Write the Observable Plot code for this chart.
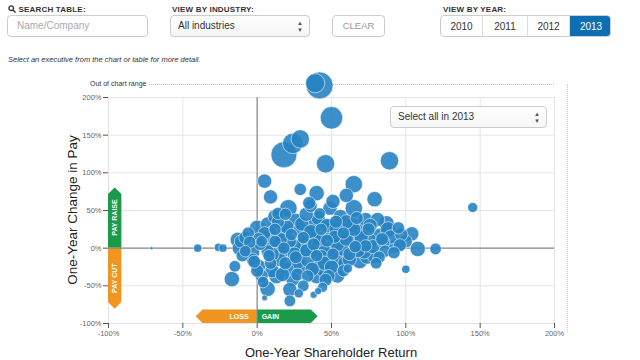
<!DOCTYPE html>
<html>
<head>
<meta charset="utf-8">
<script src="https://cdn.jsdelivr.net/npm/d3@7"></script>
<script src="https://cdn.jsdelivr.net/npm/@observablehq/plot@0.6"></script>
<style>
  body { margin:0; width:640px; height:360px; overflow:hidden; background:#fff; font-family:"Liberation Sans", Arial, sans-serif; position:relative; }
  .lbl { position:absolute; font-size:8px; font-weight:bold; color:#333; letter-spacing:0.2px; }
  .box { position:absolute; border:1px solid #ccc; border-radius:4px; box-sizing:border-box; background:#fff; font-size:10px; }
  .yr { position:absolute; top:0; height:100%; display:flex; align-items:center; justify-content:center; font-size:10px; color:#333; border-right:1px solid #ddd; box-sizing:border-box; }
  #chart { position:absolute; left:0; top:72px; }
</style>
</head>
<body>
<div class="lbl" style="left:8px;top:5px;"><svg width="8" height="8" style="vertical-align:-1px"><circle cx="3.2" cy="3.2" r="2.3" fill="none" stroke="#333" stroke-width="1.3"/><line x1="5" y1="5" x2="7.5" y2="7.5" stroke="#333" stroke-width="1.5"/></svg> SEARCH TABLE:</div>
<div class="box" style="left:7px;top:15px;width:141px;height:22px;line-height:20px;padding-left:9px;color:#aaa;">Name/Company</div>
<div class="lbl" style="left:172px;top:5px;">VIEW BY INDUSTRY:</div>
<div class="box" style="left:170px;top:15px;width:140px;height:22px;line-height:20px;padding-left:7px;color:#333;background:linear-gradient(#fff,#f4f4f4);">All industries<span style="position:absolute;right:6px;top:0;font-size:6px;line-height:7px;padding-top:4px;color:#555;">▲<br>▼</span></div>
<div class="box" style="left:332px;top:15px;width:53px;height:22px;line-height:20px;text-align:center;color:#999;font-size:9.5px;">CLEAR</div>
<div class="lbl" style="left:443px;top:5px;">VIEW BY YEAR:</div>
<div class="box" style="left:440px;top:15px;width:171px;height:22px;overflow:hidden;">
  <div class="yr" style="left:0;width:42px;">2010</div>
  <div class="yr" style="left:42px;width:45px;">2011</div>
  <div class="yr" style="left:87px;width:42px;">2012</div>
  <div class="yr" style="left:129px;width:42px;background:#0d6fb2;color:#fff;border:none;">2013</div>
</div>
<div style="position:absolute;left:8px;top:55px;font-size:7.5px;font-style:italic;color:#333;">Select an executive from the chart or table for more detail.</div>

<div style="position:absolute;left:90px;top:80px;font-size:7px;color:#333;">Out of chart range</div>
<div style="position:absolute;left:149px;top:84px;width:405px;border-top:1px dotted #bbb;"></div>
<div style="position:absolute;left:567px;top:84px;height:248px;border-left:1px dotted #ccc;"></div>

<div id="chart"></div>

<div class="box" style="left:390px;top:106px;width:157px;height:22px;line-height:20px;padding-left:7px;color:#333;background:linear-gradient(#fff,#f6f6f6);">Select all in 2013<span style="position:absolute;right:6px;top:0;font-size:6px;line-height:7px;padding-top:4px;color:#555;">▲<br>▼</span></div>

<div style="position:absolute;left:72px;top:210px;transform:translate(-50%,-50%) rotate(-90deg);font-size:13.5px;color:#222;white-space:nowrap;">One-Year Change in Pay</div>
<div style="position:absolute;left:331px;top:345px;transform:translateX(-50%);font-size:13px;color:#222;white-space:nowrap;">One-Year Shareholder Return</div>

<script>
// One-year shareholder return (%)
const shareholderReturn = [
  42, 39, 50, 29, 24, 18, 46, 89, 5, 145, 120, 100, -71, -40, -26, -23, -15, -17, -13, 0,
  9, 14, 21, 29, 40, 49, 60, 65, 79, 65, 36, 56, 42, 26, 73, 87, 95, 104, 108, 100,
  93, 83, 76, 69, 59, 49, 39, 29, 19, 9, -6, -11, -8, -3, 3, 7, 12, 17, 22, 28,
  32, 37, 42, 48, 52, 57, 63, 68, 73, 79, 86, 69, 59, 49, 39, 29, 19, 9, 1, 3,
  13, 24, 34, 44, 54, 61, 7, 5, 22, 28, 38, 41, 81, 74, 40, 48,
  2, 5, 8, 10, 12, 15, 16, 18, 20, 23, 25, 26, 30, 31, 33, 34, 36, 38, 40, 41,
  43, 44, 45, 47, 50, 51, 53, 54, 55, 58, 60, 62, 64, 66, 70, 72, 75, 78, 82, 85,
  90, 92, 97, -5, -3, -8, -10, 0, 4, 10, 14, 19, 27, 31, 35, 46, 58, 67, 80, 88,
  -12, 7, 22, 51,
  15, 25, 35, 45, 55, 65, 20, 30, 40, 50, 60, 70, 10, 33, 57, 47, 27, 37, 62, 5,
  17, 43, 53, 76, 84, 96, -2, 1, 12, 39
];
// One-year change in pay (%)
const payChange = [
  216, 219, 173, 145, 139, 124, 112, 116, 89, 54, -1, -28, 0, 0, 1, 0, -24, -41, 11, 27,
  68, 46, 53, 78, 73, 53, 70, 85, 65, 53, 56, 42, 46, 36, 38, 33, 27, 19, -1, 9,
  3, 16, 9, 23, 29, 29, 32, 25, 23, 20, 20, 9, -4, -15, 9, -4, 9, -4, 9, -7,
  9, -4, 12, -1, 15, -1, 9, -4, 3, -11, -4, -17, -20, -20, -24, -24, -20, -20, -24, -37,
  -37, -41, -37, -52, -37, -27, -54, -66, -70, -60, -62, -57, 38, -11, -37, -37,
  5, 15, -10, 2, 25, -15, 12, 0, -28, 18, 3, -12, 32, 14, -3, -16, 22, 5, -10, 40,
  25, 0, -30, 10, 18, -8, 35, 5, -15, 20, 12, -8, 30, 2, 15, -5, 25, 2, -12, 8,
  15, -6, 18, 8, -5, 14, -10, -30, -45, -30, 35, 45, -35, -50, 60, -42, -30, 40, -20, 25,
  0, 32, -55, 62,
  5, -8, 18, -20, 8, 25, 28, -5, 2, -25, 35, 0, -8, 45, 15, 30, -18, -28, -15, 20,
  -35, -12, 26, 30, 12, 4, -18, 12, 42, 12
];
// Total pay ($ millions) — bubble size
const totalPay = [
  43, 22, 30, 20, 25, 40, 20, 20, 12, 6, 8, 4, 0.6, 4, 4, 4, 8, 14, 14, 14,
  12, 9, 18, 9, 14, 12, 12, 18, 14, 18, 10, 12, 8, 14, 12, 14, 9, 12, 14, 10,
  12, 16, 14, 18, 16, 14, 16, 12, 14, 10, 9, 10, 8, 10, 8, 10, 9, 12, 10, 14,
  12, 10, 12, 14, 10, 12, 14, 10, 9, 12, 9, 14, 12, 16, 12, 14, 10, 9, 12, 10,
  14, 12, 9, 6, 12, 5, 14, 2, 8, 5, 3, 3, 12, 14, 14, 10,
  9, 10, 9, 14, 9, 12, 10, 9, 12, 9, 12, 10, 12, 9, 10, 12, 12, 10, 9, 12,
  9, 14, 12, 10, 12, 9, 10, 12, 14, 9, 12, 10, 12, 9, 12, 12, 10, 12, 9, 10,
  12, 9, 10, 9, 12, 10, 9, 10, 8, 12, 10, 9, 10, 8, 10, 10, 9, 10, 8, 14,
  12, 12, 12, 12,
  14, 12, 16, 12, 14, 12, 12, 14, 16, 12, 12, 14, 12, 12, 14, 12, 14, 12, 12, 10,
  12, 14, 12, 12, 10, 10, 10, 10, 12, 14
];
const tickValues = [-100, -50, 0, 50, 100, 150, 200];

const execs = shareholderReturn.map((x, i) => ({ret: x, pay: payChange[i], total: totalPay[i]}))
  .sort((a, b) => b.total - a.total);

// Annotation arrows (data units)
const arrows = [
  {label: "PAY RAISE", x0: -100, x1: -91, y0: 0, y1: 80, dir: "up", color: "#1a9a4a"},
  {label: "PAY CUT", x0: -100, x1: -91, y0: 0, y1: -81, dir: "down", color: "#f0951f"},
  {label: "LOSS", x0: 0, x1: -41, y0: -100, y1: -82, dir: "left", color: "#f0951f"},
  {label: "GAIN", x0: 0, x1: 41, y0: -100, y1: -82, dir: "right", color: "#1a9a4a"}
];

const chart = Plot.plot({
  width: 640,
  height: 288,
  marginTop: 25,
  marginBottom: 37,
  marginLeft: 108,
  marginRight: 86,
  style: {fontFamily: "Liberation Sans, Arial, sans-serif", fontSize: "7.5px", color: "#555", background: "transparent"},
  x: {domain: [-100, 200]},
  y: {domain: [-100, 200]},
  r: {type: "sqrt", domain: [0, 50], range: [0, 14.5]},
  marks: [
    Plot.gridX(tickValues, {stroke: "#e4e4e4", strokeOpacity: 1}),
    Plot.gridY(tickValues, {stroke: "#e4e4e4", strokeOpacity: 1}),
    Plot.axisX(tickValues, {tickFormat: d => d + "%", tickSize: 5, tickPadding: 2, label: null, stroke: "#555", fill: "#666"}),
    Plot.axisY(tickValues, {tickFormat: d => d + "%", tickSize: 5, tickPadding: 2, label: null, stroke: "#555", fill: "#666"}),
    Plot.ruleX([0], {stroke: "#8a8a8a", strokeWidth: 1.2}),
    Plot.ruleY([0], {stroke: "#8a8a8a", strokeWidth: 1.2}),
    Plot.dot(execs, {x: "ret", y: "pay", r: "total", fill: "#2783c2", fillOpacity: 0.9, stroke: "#ffffff", strokeOpacity: 0.7, strokeWidth: 0.8})
  ]
});
document.getElementById("chart").appendChild(chart);

// Draw the arrows with the chart's scales
const xs = chart.scale("x"), ys = chart.scale("y");
const svg = d3.select(chart);
const g = svg.append("g");
for (const a of arrows) {
  const X0 = xs.apply(a.x0), X1 = xs.apply(a.x1), Y0 = ys.apply(a.y0), Y1 = ys.apply(a.y1);
  let path, tx, ty, rot = 0, anchor = "middle";
  if (a.dir === "up" || a.dir === "down") {
    const xl = Math.min(X0, X1), xr = Math.max(X0, X1), h = (xr - xl) / 2, s = a.dir === "up" ? 1 : -1;
    path = `M${xl},${Y0}L${xl},${Y1 + s * h}L${(xl + xr) / 2},${Y1}L${xr},${Y1 + s * h}L${xr},${Y0}Z`;
    tx = (xl + xr) / 2; ty = (Y0 + Y1) / 2; rot = -90;
  } else {
    const yt = Math.min(Y0, Y1), yb = Math.max(Y0, Y1), h = (yb - yt) / 2, s = a.dir === "right" ? -1 : 1;
    path = `M${X0},${yt}L${X1 + s * h},${yt}L${X1},${(yt + yb) / 2}L${X1 + s * h},${yb}L${X0},${yb}Z`;
    ty = (yt + yb) / 2;
    if (a.dir === "left") { tx = X0 - 8; anchor = "end"; } else { tx = X0 + 5; anchor = "start"; }
  }
  g.append("path").attr("d", path).attr("fill", a.color);
  g.append("text").attr("x", tx).attr("y", ty).attr("dy", "0.35em")
    .attr("transform", rot ? `rotate(${rot},${tx},${ty})` : null)
    .attr("text-anchor", anchor).attr("fill", "#fff").attr("font-size", "7px").attr("font-weight", "bold")
    .text(a.label);
}
// keep the zero lines and dots above the arrows
svg.selectAll("[aria-label='rule']").raise();
svg.selectAll("[aria-label='dot']").raise();
</script>
</body>
</html>
